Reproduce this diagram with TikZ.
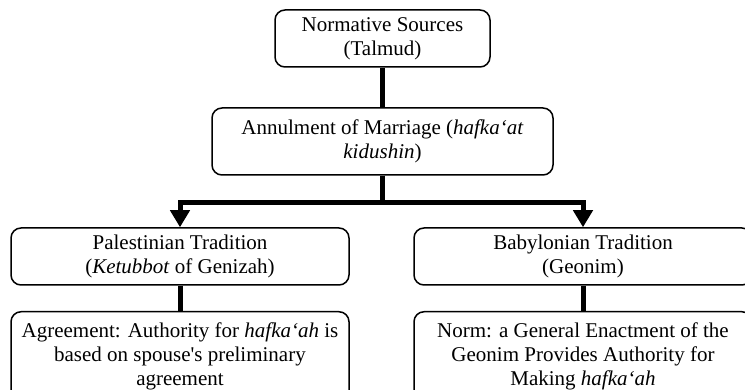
\documentclass[tikz,border=0pt]{standalone}
\usepackage{fontspec}
\setmainfont{Liberation Serif}
\usetikzlibrary{arrows.meta}

\begin{document}
\begin{tikzpicture}[
  x=1pt, y=-1pt,
  boxStyle/.style={draw, rounded corners=10pt, line width=1.5pt, align=center, inner sep=0pt, font=\fontsize{21}{24}\selectfont},
  linkStyle/.style={line width=5pt, line join=miter},
  arrowStyle/.style={linkStyle, -{Triangle[width=19pt, length=17pt]}}]

\useasboundingbox (0, 0) rectangle (745, 390);
\clip (0, 0) rectangle (745, 390);

\node [boxStyle, minimum width=215pt, minimum height=57pt] (sources) at (382.5, 38.5) {Normative Sources\\(Talmud)};
\node [boxStyle, minimum width=341pt, minimum height=67pt] (annulment) at (382.5, 141.5) {Annulment of Marriage (\textit{hafka‘at}\\\textit{kidushin})};

\node [boxStyle, minimum width=338pt, minimum height=57pt] (palestinian) at (180, 256.5) {Palestinian Tradition\\(\textit{Ketubbot} of Genizah)};
\node [boxStyle, minimum width=338pt, minimum height=57pt] (babylonian) at (583, 256.5) {Babylonian Tradition\\(Geonim)};

\node [boxStyle, minimum width=338pt, minimum height=90pt, anchor=north] (agreement) at (180, 311) {Agreement: Authority for \textit{hafka‘ah} is\\based on spouse\textquotesingle s preliminary\\agreement};
\node [boxStyle, minimum width=338pt, minimum height=90pt, anchor=north] (norm) at (583, 311) {Norm: a General Enactment of the\\Geonim Provides Authority for\\Making \textit{hafka‘ah}};

\coordinate (split) at (382.5, 202.5);

\draw [linkStyle] (sources) -- (annulment);
\draw [arrowStyle] (annulment.south) -- (split) -| (palestinian.north);
\draw [arrowStyle] (annulment.south) -- (split) -| (babylonian.north);
\draw [linkStyle] (palestinian) -- (agreement);
\draw [linkStyle] (babylonian) -- (norm);
\end{tikzpicture}
\end{document}
